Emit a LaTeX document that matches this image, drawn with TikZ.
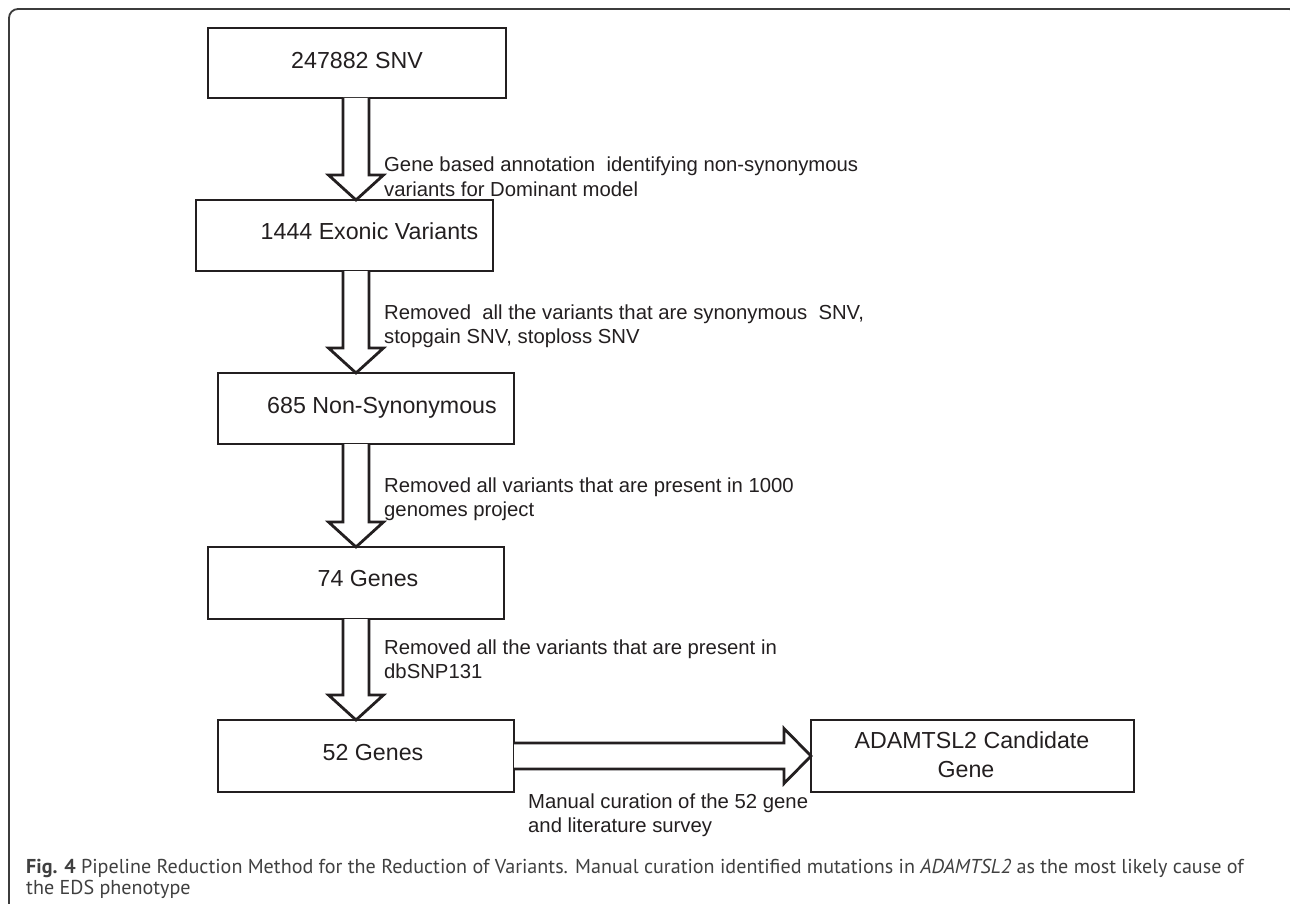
\documentclass[tikz,border=0pt]{standalone}
\usepackage{fontspec}
\setmainfont{Liberation Sans}
\newfontfamily\capfont{PT Sans}
\usetikzlibrary{calc}
\definecolor{ink}{RGB}{35,31,32}
\definecolor{capgray}{RGB}{64,64,64}
\definecolor{framegray}{RGB}{60,60,60}
\newcommand{\vblock}[2]{%
  \draw[barrow] ($(#1.south -| ax)+(-13,0)$) -- ($(#2.north -| ax)+(-13,-25)$) -- ($(#2.north -| ax)+(-27.5,-25)$) -- (#2.north -| ax) -- ($(#2.north -| ax)+(27.5,-25)$) -- ($(#2.north -| ax)+(13,-25)$) -- ($(#1.south -| ax)+(13,0)$);}
\begin{document}
\begin{tikzpicture}[x=1pt,y=-1pt,
  box/.style={draw=ink, line width=2.8pt, rectangle, inner sep=0pt, outer sep=0pt},
  btext/.style={inner sep=0pt, text=ink, font=\fontsize{23.2}{27.5}\selectfont, align=center},
  lbl/.style={inner sep=0pt, text=ink, font=\fontsize{20.3}{24.5}\selectfont, align=left},
  barrow/.style={draw=ink, line width=2.8pt, fill=white, line join=miter, miter limit=10},
  captext/.style={inner sep=0pt, text=capgray, font=\capfont\fontsize{20.1}{21}\selectfont},
  framestyle/.style={draw=framegray, line width=1.8pt}]
\useasboundingbox (0,0) rectangle (1290,904);
\fill[white] (0,0) rectangle (1290,904);
\draw[framestyle, rounded corners=9] (9,920) -- (9,9) -- (1298,9) -- (1298,920);
\coordinate (ax) at (356,0);
% boxes
\node[box, minimum width=298, minimum height=70] (b1) at (357,63) {};
\node[box, minimum width=297, minimum height=71] (b2) at (344.5,235.5) {};
\node[box, minimum width=296, minimum height=71] (b3) at (366,408.5) {};
\node[box, minimum width=296, minimum height=72] (b4) at (356,583) {};
\node[box, minimum width=296, minimum height=72] (b5) at (366,756) {};
\node[box, minimum width=323, minimum height=72] (b6) at (972.5,756) {};
% box texts
\node[btext, anchor=base] (t1) at (357,69) {247882 SNV};
\node[btext, anchor=base] (t2) at (369.5,240) {1444 Exonic Variants};
\node[btext, anchor=base] (t3) at (382,413) {685 Non-Synonymous};
\node[btext, anchor=base] (t4) at (368,586) {74 Genes};
\node[btext, anchor=base] (t5) at (373,760) {52 Genes};
\node[btext, anchor=base] (t6a) at (972,748) {ADAMTSL2 Candidate};
\node[btext, anchor=base] (t6b) at (966,777) {Gene};
% arrows
\vblock{b1}{b2}
\vblock{b2}{b3}
\vblock{b3}{b4}
\vblock{b4}{b5}
\draw[barrow] ($(b5.east)+(0,-13)$) -- ($(b6.west)+(-27,-13)$) -- ($(b6.west)+(-27,-27.5)$) -- (b6.west) -- ($(b6.west)+(-27,27.5)$) -- ($(b6.west)+(-27,13)$) -- ($(b5.east)+(0,13)$);
% labels (base = baseline of last line)
\node[lbl, anchor=base west] (l1) at (384,196.5) {Gene based annotation\ \ identifying non-synonymous\\variants for Dominant model};
\node[lbl, anchor=base west] (l2) at (384,343.5) {Removed\ \ all the variants that are synonymous\ \ SNV,\\stopgain SNV, stoploss SNV};
\node[lbl, anchor=base west] (l3) at (384,516.5) {Removed all variants that are present in 1000\\genomes project};
\node[lbl, anchor=base west] (l4) at (384,678.5) {Removed all the variants that are present in\\dbSNP131};
\node[lbl, anchor=base west] (l5) at (528,832.5) {Manual curation of the 52 gene\\and literature survey};
% caption
\node[captext, anchor=base west] (cap1) at (26,873) {\textbf{Fig. 4} Pipeline Reduction Method for the Reduction of Variants. Manual curation identified mutations in \textit{ADAMTSL2} as the most likely cause of};
\node[captext, anchor=base west] (cap2) at (26,894) {the EDS phenotype};
\end{tikzpicture}
\end{document}
